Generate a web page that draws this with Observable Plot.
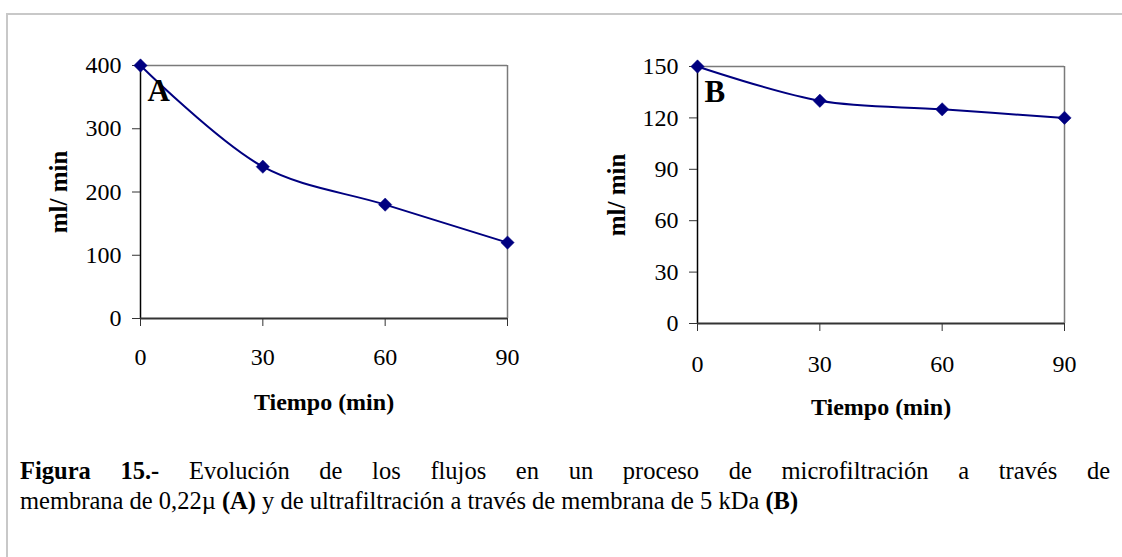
<!DOCTYPE html>
<html>
<head>
<meta charset="utf-8">
<script src="https://cdn.jsdelivr.net/npm/d3@7"></script>
<script src="https://cdn.jsdelivr.net/npm/@observablehq/plot@0.6"></script>
<style>
  html, body { margin: 0; padding: 0; background: white; }
  #page { position: relative; width: 1122px; height: 557px; overflow: hidden; font-family: "Liberation Serif", "Times New Roman", serif; }
  #frame { position: absolute; left: 6px; top: 13px; right: -4px; bottom: -4px;
           border-top: 2px solid #c8c8c8; border-left: 2px solid #c8c8c8; z-index: 2; }
  .chart { position: absolute; top: 0; }
  .chart svg { max-width: none; }
  #caption { position: absolute; left: 20px; top: 456px; width: 1090px; font-size: 24.5px; line-height: 30px; color: black; }
  #caption .l1 { text-align: justify; text-align-last: justify; }
</style>
</head>
<body>
<div id="page">
  <div id="chartA" class="chart" style="left:0px"></div>
  <div id="chartB" class="chart" style="left:560px"></div>
  <div id="caption">
    <div class="l1"><b>Figura 15.-</b> Evolución de los flujos en un proceso de microfiltración a través de</div>
    <div class="l2">membrana de 0,22µ <b>(A)</b> y de ultrafiltración a través de membrana de 5 kDa <b>(B)</b></div>
  </div>
  <div id="frame"></div>
</div>
<script>
// Flux measurements over time (min → ml/min)
const tiempo = [0, 30, 60, 90];
const flujoA = [400, 240, 180, 120];   // microfiltration, 0.22 µ membrane
const flujoB = [150, 130, 125, 120];   // ultrafiltration, 5 kDa membrane

const ticksX = [0, 30, 60, 90];
const ticksA = [0, 100, 200, 300, 400];
const ticksB = [0, 30, 60, 90, 120, 150];

const panelLetters = ["A", "B"];
const xTitle = "Tiempo (min)";
const yTitle = "ml/ min";

const serif = '"Liberation Serif", "Times New Roman", serif';
const navy = "#000080";

function panel({values, yTicks, yMax, letter, width, margins, xPad, yTitleDx}) {
  const data = tiempo.map((t, i) => ({t, v: values[i]}));
  return Plot.plot({
    width,
    height: 430,
    ...margins,
    style: {fontFamily: serif, background: "transparent", color: "black", overflow: "visible"},
    x: {domain: [0, 90], nice: false},
    y: {domain: [0, yMax], nice: false},
    marks: [
      // plot frame: gray top/right, black left/bottom axes
      Plot.ruleY([yMax], {stroke: "#7a7a7a", strokeWidth: 1.5}),
      Plot.ruleX([90], {stroke: "#7a7a7a", strokeWidth: 1.5}),
      Plot.ruleX([0], {stroke: "black", strokeWidth: 1.5}),
      Plot.ruleY([0], {stroke: "#333", strokeWidth: 2}),
      Plot.axisY({ticks: yTicks, tickSize: 8, tickPadding: 11, fontSize: 24, label: null, stroke: "#333"}),
      Plot.axisX({ticks: ticksX, tickSize: 8, tickPadding: xPad, fontSize: 24, label: null, stroke: "#333"}),
      Plot.line(data, {x: "t", y: "v", stroke: navy, strokeWidth: 2, curve: "catmull-rom"}),
      Plot.dot(data, {x: "t", y: "v", symbol: "diamond2", r: 6, fill: navy, stroke: navy, strokeWidth: 0.5}),
      Plot.text([letter], {text: d => d, frameAnchor: "top-left", dx: 7, dy: 13, textAnchor: "start", lineAnchor: "top", fontSize: 31, fontWeight: "bold"}),
      Plot.text([xTitle], {text: d => d, frameAnchor: "bottom", dy: 91, lineAnchor: "bottom", fontSize: 24, fontWeight: "bold"}),
      Plot.text([yTitle], {text: d => d, frameAnchor: "left", dx: yTitleDx, rotate: -90, textAnchor: "middle", lineAnchor: "middle", fontSize: 25, fontWeight: "bold"})
    ]
  });
}

document.getElementById("chartA").append(panel({
  values: flujoA, yTicks: ticksA, yMax: 400, letter: panelLetters[0], width: 560,
  margins: {marginLeft: 140, marginRight: 53, marginTop: 65, marginBottom: 112},
  xPad: 21, yTitleDx: -82
}));

document.getElementById("chartB").append(panel({
  values: flujoB, yTicks: ticksB, yMax: 150, letter: panelLetters[1], width: 562,
  margins: {marginLeft: 137, marginRight: 58, marginTop: 66, marginBottom: 107},
  xPad: 23, yTitleDx: -81
}));
</script>
</body>
</html>
